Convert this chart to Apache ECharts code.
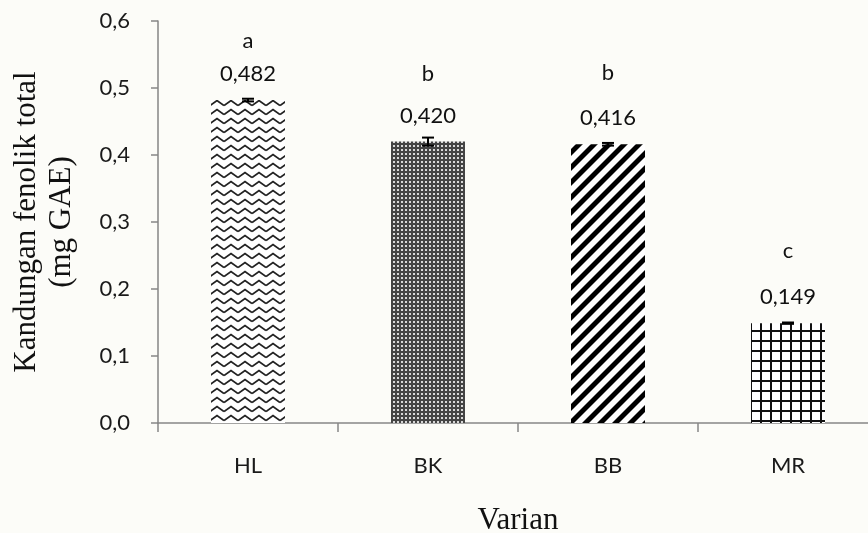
<!DOCTYPE html>
<html>
<head>
<meta charset="utf-8">
<script src="https://cdn.jsdelivr.net/npm/echarts@6/dist/echarts.min.js"></script>
<style>html,body{margin:0;padding:0;background:#fcfcf8;}#c{width:868px;height:533px;}</style>
</head>
<body>
<div id="c"></div>
<script>
// ---- data ----
const categories = ['HL', 'BK', 'BB', 'MR'];
const values = [0.482, 0.420, 0.416, 0.149];
const errors = [0.002, 0.006, 0.002, 0.001];
const letters = ['a', 'b', 'b', 'c'];
const yTicks = [0, 0.1, 0.2, 0.3, 0.4, 0.5, 0.6];

// ---- patterns ----
function makeCanvas(w, h, draw) {
  const c = document.createElement('canvas');
  c.width = w; c.height = h;
  const ctx = c.getContext('2d');
  draw(ctx, w, h);
  return c;
}
const zigzag = makeCanvas(14, 9, (ctx, w, h) => {
  ctx.fillStyle = '#ffffff'; ctx.fillRect(0, 0, w, h);
  ctx.strokeStyle = '#222'; ctx.lineWidth = 1.8;
  for (let oy = -h; oy <= h; oy += h) {
    ctx.beginPath();
    ctx.moveTo(0, oy + 6.5); ctx.lineTo(7, oy + 1.5); ctx.lineTo(14, oy + 6.5);
    ctx.stroke();
  }
});
const checker = makeCanvas(4, 4, (ctx, w, h) => {
  ctx.fillStyle = '#444'; ctx.fillRect(0, 0, w, h);
  ctx.fillStyle = '#d8d8d8'; ctx.fillRect(1, 1, 2, 2);
});
const stripes = makeCanvas(15, 15, (ctx, w, h) => {
  ctx.fillStyle = '#ffffff'; ctx.fillRect(0, 0, w, h);
  ctx.fillStyle = '#000';
  for (let k = -1; k <= 1; k++) {
    const o = k * 15;
    ctx.beginPath();
    ctx.moveTo(o + 0, 15); ctx.lineTo(o + 7, 15); ctx.lineTo(o + 22, 0); ctx.lineTo(o + 15, 0);
    ctx.closePath(); ctx.fill();
  }
});
const grid = makeCanvas(10, 10, (ctx, w, h) => {
  ctx.fillStyle = '#ffffff'; ctx.fillRect(0, 0, w, h);
  ctx.fillStyle = '#111';
  ctx.fillRect(0, 0, 2, h);
  ctx.fillRect(0, 0, w, 2);
});
const patterns = [zigzag, checker, stripes, grid];

// label styling (offsets of significance letters above values)
const letterLift = [42, 60, 66, 68];
const fmt = v => v.toFixed(3).replace('.', ',');

const chart = echarts.init(document.getElementById('c'), null, {renderer: 'canvas'});
const tickFont = 'Lato, "Open Sans", sans-serif';
const serif = '"Liberation Serif", "DejaVu Serif", serif';
const FS = 22;

const option = {
  backgroundColor: '#fcfcf8',
  animation: false,
  grid: {left: 158, right: -10, top: 21, bottom: 110, containLabel: false, outerBoundsMode: 'none'},
  xAxis: {
    type: 'category',
    data: categories,
    name: 'Varian',
    nameLocation: 'middle',
    nameGap: 82,
    nameTextStyle: {fontFamily: serif, fontSize: 31, color: '#111'},
    axisLine: {lineStyle: {color: '#868686', width: 1.5}},
    axisTick: {show: true, length: 9, lineStyle: {color: '#868686', width: 1.5}},
    axisLabel: {fontFamily: tickFont, fontSize: FS, color: '#1a1a1a', margin: 32}
  },
  yAxis: {
    type: 'value',
    min: 0, max: 0.6, interval: 0.1,
    name: 'Kandungan fenolik total\n(mg GAE)',
    nameLocation: 'middle',
    nameGap: 79,
    nameRotate: 90,
    nameTextStyle: {fontFamily: serif, fontSize: 31, color: '#111', lineHeight: 35},
    axisLine: {show: true, lineStyle: {color: '#868686', width: 1.5}},
    axisTick: {show: true, length: 7, lineStyle: {color: '#868686', width: 1.5}},
    splitLine: {show: false},
    axisLabel: {
      fontFamily: tickFont, fontSize: FS, color: '#1a1a1a', margin: 28,
      formatter: v => {
        const t = yTicks.find(x => Math.abs(x - v) < 1e-9);
        return (t !== undefined ? t : v).toFixed(1).replace('.', ',');
      }
    }
  },
  series: [
    {
      type: 'bar',
      barWidth: 74,
      data: values.map((v, i) => ({
        value: v,
        itemStyle: {color: {image: patterns[i], repeat: 'repeat'}},
        label: {
          show: true,
          position: 'top',
          distance: 14,
          formatter: '{g|' + letters[i] + '}\n{v|' + fmt(v) + '}',
          rich: {
            g: {fontFamily: tickFont, fontSize: FS, color: '#111', lineHeight: letterLift[i], align: 'center'},
            v: {fontFamily: tickFont, fontSize: FS, color: '#111', lineHeight: 24, align: 'center'}
          }
        }
      }))
    },
    {
      type: 'custom',
      z: 10,
      data: values.map((v, i) => [i, v - errors[i], v + errors[i]]),
      renderItem: (params, api) => {
        const x = api.value(0);
        const lo = api.coord([x, api.value(1)]);
        const hi = api.coord([x, api.value(2)]);
        const hw = 6;
        const st = {stroke: '#000', lineWidth: 2};
        return {
          type: 'group',
          children: [
            {type: 'line', shape: {x1: lo[0], y1: lo[1], x2: hi[0], y2: hi[1]}, style: st},
            {type: 'line', shape: {x1: lo[0] - hw, y1: lo[1], x2: lo[0] + hw, y2: lo[1]}, style: st},
            {type: 'line', shape: {x1: hi[0] - hw, y1: hi[1], x2: hi[0] + hw, y2: hi[1]}, style: st}
          ]
        };
      }
    }
  ]
};
chart.setOption(option);
</script>
</body>
</html>
